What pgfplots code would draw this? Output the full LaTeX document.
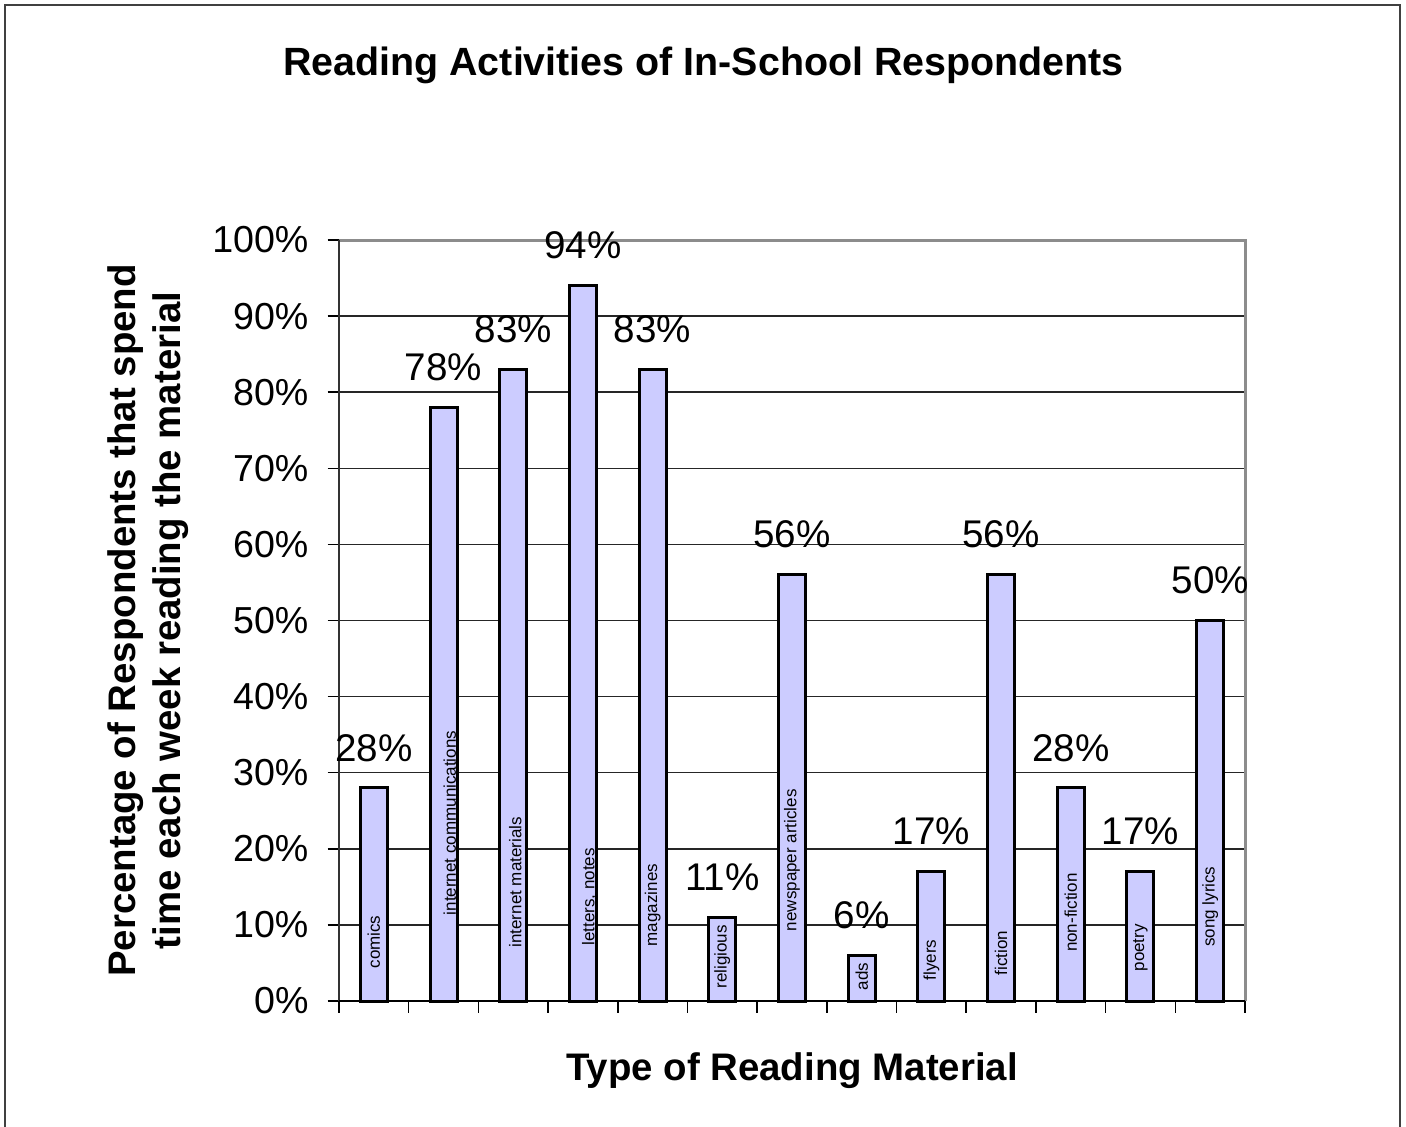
\documentclass[border=0pt]{standalone}
\usepackage{pgfplots}
\pgfplotsset{compat=1.18}
\usepackage{fontspec}
\setmainfont{Liberation Sans}
\definecolor{barfill}{HTML}{CCCCFF}
\definecolor{framegray}{HTML}{8C8C8C}

\begin{document}
\begin{tikzpicture}
\useasboundingbox (0,0) rectangle (703pt,-563pt);
% outer chart border (runs off the lower edge)
\draw[black!75, line width=1pt] (2.25pt,-2.25pt) rectangle (699.75pt,-620pt);

\begin{axis}[
  at={(169.5pt,-500.5pt)}, anchor=south west,
  scale only axis, width=453pt, height=380.5pt,
  xmin=-0.5, xmax=12.5, ymin=0, ymax=100,
  axis line style={draw=none},
  xtick={-0.5,0.5,...,12.5}, xticklabels={},
  ytick={0,10,...,100},
  yticklabel={\pgfmathprintnumber[assume math mode=true]{\tick}\%},
  yticklabel style={font=\fontsize{18.8}{20}\selectfont, xshift=-6pt},
  tick align=outside, tick pos=left,
  major tick length=5.75pt,
  every tick/.style={black, line width=0.75pt},
  ymajorgrids, grid style={black!85, line width=0.75pt},
  clip=false,
]
% plot area frame
\draw[framegray, line width=1.5pt] (rel axis cs:0,1) -- (rel axis cs:1,1) -- (rel axis cs:1,0);
\draw[black!80, line width=1pt] (rel axis cs:0,1) -- (rel axis cs:0,0);
\draw[black, line width=0.75pt] (rel axis cs:0,0) -- (rel axis cs:1,0);

% share of respondents per reading material
\addplot[ybar, bar width=13.5pt, bar shift=0pt, fill=barfill, draw=black, line width=1.5pt,
  nodes near coords={\pgfmathprintnumber[assume math mode=true]{\pgfplotspointmeta}\%},
  every node near coord/.style={anchor=south, inner sep=0pt, yshift=12.5pt,
    font=\fontsize{19.3}{21}\selectfont, black}]
  coordinates {(0,28) (1,78) (2,83) (3,94) (4,83) (5,11) (6,56)
               (7,6) (8,17) (9,56) (10,28) (11,17) (12,50)};

% category names written inside the bars
\addplot[draw=none, mark=none, nodes near coords, point meta=explicit symbolic,
  every node near coord/.style={rotate=90, anchor=center, inner sep=0pt,
    font=\fontsize{8.5}{10}\selectfont, black}]
  coordinates {(0,7.75)[comics] (1.09,23.4)[internet communications]
    (2.03,15.6)[internet materials] (3.09,13.7)[letters, notes]
    (4,12.6)[magazines] (5,5.8)[religious] (6,18.5)[newspaper articles]
    (7,3.2)[ads] (8,5.4)[flyers] (9,6.3)[fiction] (10,11.6)[non-fiction]
    (11,7.0)[poetry] (12,12.4)[song lyrics]};
\end{axis}

\node[anchor=base, font=\bfseries\fontsize{19.7}{22}\selectfont] at (351.75pt,-37.5pt)
  {Reading Activities of In-School Respondents};
\node[anchor=base, font=\bfseries\fontsize{19.2}{22}\selectfont] at (396pt,-540pt)
  {Type of Reading Material};
\node[rotate=90, anchor=base, font=\bfseries\fontsize{19.2}{22}\selectfont] at (67.5pt,-310.25pt)
  {Percentage of Respondents that spend};
\node[rotate=90, anchor=base, font=\bfseries\fontsize{19.2}{22}\selectfont] at (90pt,-310.25pt)
  {time each week reading the material};
\end{tikzpicture}
\end{document}
